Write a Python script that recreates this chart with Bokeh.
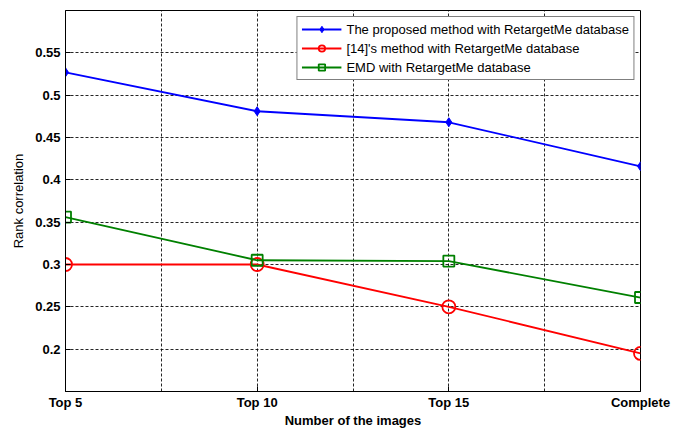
import numpy as np
from bokeh.plotting import figure
from bokeh.models import FixedTicker, Legend, LegendItem, Range1d
from bokeh.embed import file_html
from bokeh.resources import INLINE

categories = ["Top 5", "Top 10", "Top 15", "Complete"]
proposed = [0.527, 0.481, 0.468, 0.416]
ref14 = [0.300, 0.300, 0.250, 0.195]
emd = [0.356, 0.305, 0.304, 0.261]
yticks = [0.2, 0.25, 0.3, 0.35, 0.4, 0.45, 0.5, 0.55]
series_names = ["The proposed method with RetargetMe database",
                "[14]'s method with RetargetMe database",
                "EMD with RetargetMe database"]

x = list(range(1, len(categories) + 1))

FONT = "Liberation Sans"

p = figure(width=682, height=430, output_backend="svg", toolbar_location=None,
           x_range=Range1d(1, len(categories)), y_range=Range1d(0.15, 0.6),
           min_border_left=65, min_border_right=42, min_border_top=10, min_border_bottom=36)
p.background_fill_color = "white"
p.border_fill_color = "white"
p.outline_line_color = "black"
p.outline_line_width = 1

# axes
p.xaxis.ticker = FixedTicker(ticks=x, minor_ticks=[i + 0.5 for i in x[:-1]])
p.xaxis.major_label_overrides = {i: c for i, c in zip(x, categories)}
p.yaxis.ticker = FixedTicker(ticks=yticks)
p.yaxis.major_label_overrides = {t: f"{t:g}" for t in yticks}
for ax in (p.xaxis[0], p.yaxis[0]):
    ax.major_label_text_font = FONT
    ax.major_label_text_font_style = "bold"
    ax.major_label_text_font_size = "13px"
    ax.major_label_text_color = "black"
    ax.axis_line_color = "black"
    ax.major_tick_in = 5
    ax.major_tick_out = 0
    ax.minor_tick_in = 0
    ax.minor_tick_out = 0
    ax.major_tick_line_color = "black"
    ax.axis_label_text_font = FONT
    ax.axis_label_text_font_size = "13px"
    ax.axis_label_text_color = "black"
p.xaxis.axis_label = "Number of the images"
p.xaxis.axis_label_text_font_style = "bold"
p.xaxis.axis_label_standoff = 0
p.xaxis.major_label_standoff = 3
p.yaxis.axis_label = "Rank correlation"
p.yaxis.axis_label_text_font_style = "normal"
p.yaxis.axis_label_standoff = 6
p.yaxis.major_label_standoff = 5

# grids
p.xgrid.grid_line_color = "black"
p.xgrid.grid_line_dash = "3 2"
p.xgrid.grid_line_alpha = 0.85
p.xgrid.minor_grid_line_color = "black"
p.xgrid.minor_grid_line_dash = "3 2"
p.xgrid.minor_grid_line_alpha = 0.85
p.ygrid.grid_line_color = "black"
p.ygrid.grid_line_dash = "3 2"
p.ygrid.grid_line_alpha = 0.85

r1 = p.line(x, proposed, line_color="#0000ff", line_width=1.8)
s1 = p.scatter(x, proposed, marker="diamond", size=9, fill_color="#0000ff", line_color="#0000ff")
r2 = p.line(x, ref14, line_color="#ff0000", line_width=1.8)
s2 = p.scatter(x, ref14, marker="circle", size=13, fill_color=None, line_color="#ff0000", line_width=1.8)
r3 = p.line(x, emd, line_color="#008000", line_width=1.8)
s3 = p.scatter(x, emd, marker="square", size=11, fill_color=None, line_color="#008000", line_width=1.8)
items = [LegendItem(label=series_names[0], renderers=[r1, s1]),
         LegendItem(label=series_names[1], renderers=[r2, s2]),
         LegendItem(label=series_names[2], renderers=[r3, s3])]
legend = Legend(items=items, location="top_right")
legend.label_text_font = FONT
legend.label_text_font_size = "13px"
legend.label_text_color = "black"
legend.glyph_width = 40
legend.glyph_height = 16
legend.label_height = 16
legend.spacing = 3
legend.padding = 4
legend.margin = 6
legend.label_standoff = 5
legend.border_line_color = "black"
legend.border_line_width = 1
legend.background_fill_color = "white"
legend.background_fill_alpha = 1
p.add_layout(legend)

open("out.html", "w").write(file_html(p, INLINE))
